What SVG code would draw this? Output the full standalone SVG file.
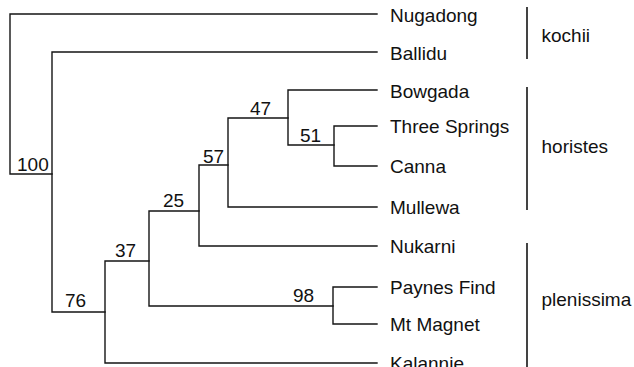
<svg xmlns="http://www.w3.org/2000/svg" width="634" height="367" viewBox="0 0 634 367">
<style>
  .br { fill: none; stroke: #151515; stroke-width: 1.4; stroke-linecap: square; }
  .bk { fill: none; stroke: #151515; stroke-width: 1.6; }
  text { font-family: "Liberation Sans", Arial, sans-serif; font-size: 19px; fill: #111; }
</style>
<rect width="634" height="367" fill="#ffffff"/>
<g id="connectors">
  <!-- root -->
  <path class="br" d="M377,14 H10 V174 H52"/>
  <!-- ingroup node -->
  <path class="br" d="M377,52 H52 V312 H105"/>
  <!-- node 76 -->
  <path class="br" d="M149,261 H105 V363 H377"/>
  <!-- node 37 -->
  <path class="br" d="M199,211 H149 V306 H333"/>
  <!-- node 98 -->
  <path class="br" d="M377,287 H333 V324 H377"/>
  <!-- node 25 -->
  <path class="br" d="M228,165 H199 V246 H377"/>
  <!-- node 57 -->
  <path class="br" d="M288,118 H228 V207 H377"/>
  <!-- node 47 -->
  <path class="br" d="M377,90 H288 V145 H334"/>
  <!-- node 51 -->
  <path class="br" d="M377,126 H334 V166 H377"/>
</g>
<g id="node-root"><text x="17" y="170.5">100</text></g>
<g id="node-76"><text x="65" y="306.5">76</text></g>
<g id="node-37"><text x="115" y="257">37</text></g>
<g id="node-25"><text x="163" y="207">25</text></g>
<g id="node-57"><text x="203" y="162.5">57</text></g>
<g id="node-47"><text x="250" y="115">47</text></g>
<g id="node-51"><text x="300" y="141.5">51</text></g>
<g id="node-98"><text x="293" y="302">98</text></g>
<g id="leaf-nugadong"><text x="390" y="22">Nugadong</text></g>
<g id="leaf-ballidu"><text x="390" y="60">Ballidu</text></g>
<g id="leaf-bowgada"><text x="390" y="98">Bowgada</text></g>
<g id="leaf-threesprings"><text x="390" y="133">Three Springs</text></g>
<g id="leaf-canna"><text x="390" y="173">Canna</text></g>
<g id="leaf-mullewa"><text x="390" y="214">Mullewa</text></g>
<g id="leaf-nukarni"><text x="390" y="253">Nukarni</text></g>
<g id="leaf-paynesfind"><text x="390" y="294">Paynes Find</text></g>
<g id="leaf-mtmagnet"><text x="390" y="331">Mt Magnet</text></g>
<g id="leaf-kalannie"><text x="390" y="370">Kalannie</text></g>
<g id="group-kochii">
  <line class="bk" x1="527" y1="7" x2="527" y2="59"/>
  <text x="541.5" y="41.5">kochii</text>
</g>
<g id="group-horistes">
  <line class="bk" x1="527" y1="87" x2="527" y2="210"/>
  <text x="541.5" y="153">horistes</text>
</g>
<g id="group-plenissima">
  <line class="bk" x1="527" y1="243" x2="527" y2="367"/>
  <text x="541.5" y="306">plenissima</text>
</g>
</svg>
